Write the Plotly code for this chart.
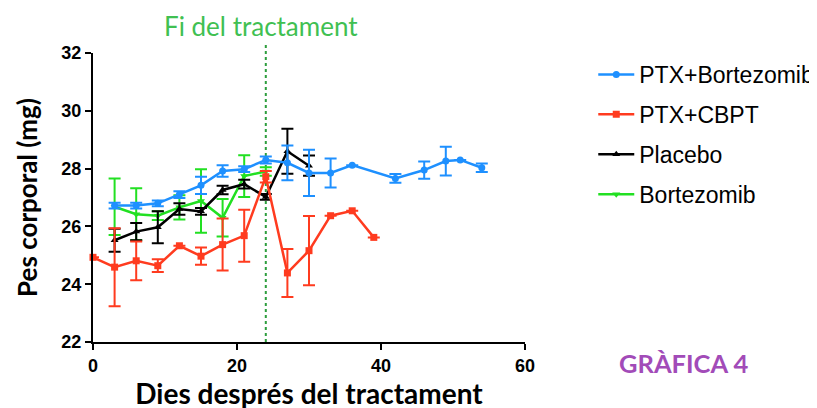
import plotly.graph_objects as go

# PTX+Bortezomib
days_pb = [3, 6, 9, 12, 15, 18, 21, 24, 27, 30, 33, 36, 42, 46, 49, 51, 54]
val_pb = [26.72, 26.72, 26.8, 27.1, 27.42, 27.92, 27.98, 28.3, 28.2, 27.85, 27.85, 28.12, 27.66, 27.95, 28.26, 28.3, 28.03]
err_pb = [0.1, 0.1, 0.1, 0.12, 0.3, 0.2, 0.1, 0.12, 0.6, 0.8, 0.5, 0.0, 0.15, 0.3, 0.5, 0.0, 0.15]

# PTX+CBPT
days_pc = [0, 3, 6, 9, 12, 15, 18, 21, 24, 27, 30, 33, 36, 39]
val_pc = [24.93, 24.59, 24.81, 24.64, 25.33, 24.97, 25.37, 25.68, 27.72, 24.39, 25.16, 26.37, 26.54, 25.62]
err_pc = [0.0, 1.35, 0.67, 0.22, 0.0, 0.3, 0.9, 0.9, 0.2, 0.83, 1.2, 0.0, 0.0, 0.0]

# Placebo
days_pl = [3, 6, 9, 12, 15, 18, 21, 24, 27, 30]
val_pl = [25.52, 25.82, 25.97, 26.6, 26.52, 27.26, 27.46, 27.02, 28.6, 28.1]
err_pl = [0.4, 0.3, 0.55, 0.2, 0.12, 0.15, 0.15, 0.1, 0.78, 0.35]

# Bortezomib
days_bz = [3, 6, 9, 12, 15, 18, 21, 24]
val_bz = [26.68, 26.42, 26.37, 26.66, 26.88, 26.3, 27.74, 27.9]
err_bz = [0.98, 0.9, 0.15, 0.42, 1.1, 0.65, 0.72, 0.15]

names = ["PTX+Bortezomib", "PTX+CBPT", "Placebo", "Bortezomib"]
colors = ["#1E90FF", "#FF3B1F", "#000000", "#22E022"]
symbols = ["circle", "square", "triangle-up", "triangle-down"]

x_ticks = [0, 20, 40, 60]
y_ticks = [22, 24, 26, 28, 30, 32]
end_day = 24

series = [(days_pb, val_pb, err_pb), (days_pc, val_pc, err_pc),
          (days_pl, val_pl, err_pl), (days_bz, val_bz, err_bz)]

fig = go.Figure()
order = [3, 2, 1, 0]
for i in order:
    d, v, e = series[i]
    fig.add_trace(go.Scatter(
        x=d, y=v, name=names[i], mode="lines+markers",
        line=dict(color=colors[i], width=2.5),
        marker=dict(color=colors[i], symbol=symbols[i], size=7),
        error_y=dict(type="data", array=e, visible=True, color=colors[i],
                     thickness=2, width=6),
        cliponaxis=False, legendgroup=names[i], legendrank=i + 1,
    ))

fig.add_shape(type="line", x0=end_day, x1=end_day, xref="x", yref="paper",
              y0=0, y1=1.03, line=dict(color="#2E9E3E", width=2, dash="dot"),
              layer="below")

fig.add_annotation(text="Fi del tractament", x=0.389, y=1.095, xref="paper", yref="paper",
                   xanchor="center", yanchor="middle",
                   showarrow=False, font=dict(family="Lato", size=26, color="#40C052"))
fig.add_annotation(text="GRÀFICA 4", x=1.369, y=-0.072, xref="paper", yref="paper",
                   xanchor="center", yanchor="middle",
                   showarrow=False, font=dict(family="Lato", size=25.5, color="#A24BB8", weight="bold"))

fig.update_layout(
    width=850, height=416,
    margin=dict(l=85, r=333, t=45, b=82),
    plot_bgcolor="white", paper_bgcolor="white",
    font=dict(family="Liberation Sans", color="black"),
    showlegend=True,
    legend=dict(x=1.158, y=1.0, xanchor="left", yanchor="top",
                font=dict(family="Liberation Sans", size=23, color="black"),
                tracegroupgap=7, itemwidth=36, bgcolor="rgba(0,0,0,0)"),
    xaxis=dict(range=[0, 60], tickvals=x_ticks, showline=True, linecolor="black",
               linewidth=2, ticks="outside", ticklen=6, tickwidth=2, tickcolor="black",
               showgrid=False, zeroline=False,
               tickfont=dict(family="Liberation Sans", size=18, weight="bold"),
               title=dict(text="Dies després del tractament", standoff=8,
                          font=dict(family="Lato", size=28, weight="bold"))),
    yaxis=dict(range=[22, 32], tickvals=y_ticks, showline=True, linecolor="black",
               linewidth=2, ticks="outside", ticklen=6, tickwidth=2, tickcolor="black",
               showgrid=False, zeroline=False,
               tickfont=dict(family="Liberation Sans", size=18, weight="bold"),
               title=dict(text="Pes corporal (mg)", standoff=16,
                          font=dict(family="Lato", size=26, weight="bold"))),
)

fig.write_html("out.html")
